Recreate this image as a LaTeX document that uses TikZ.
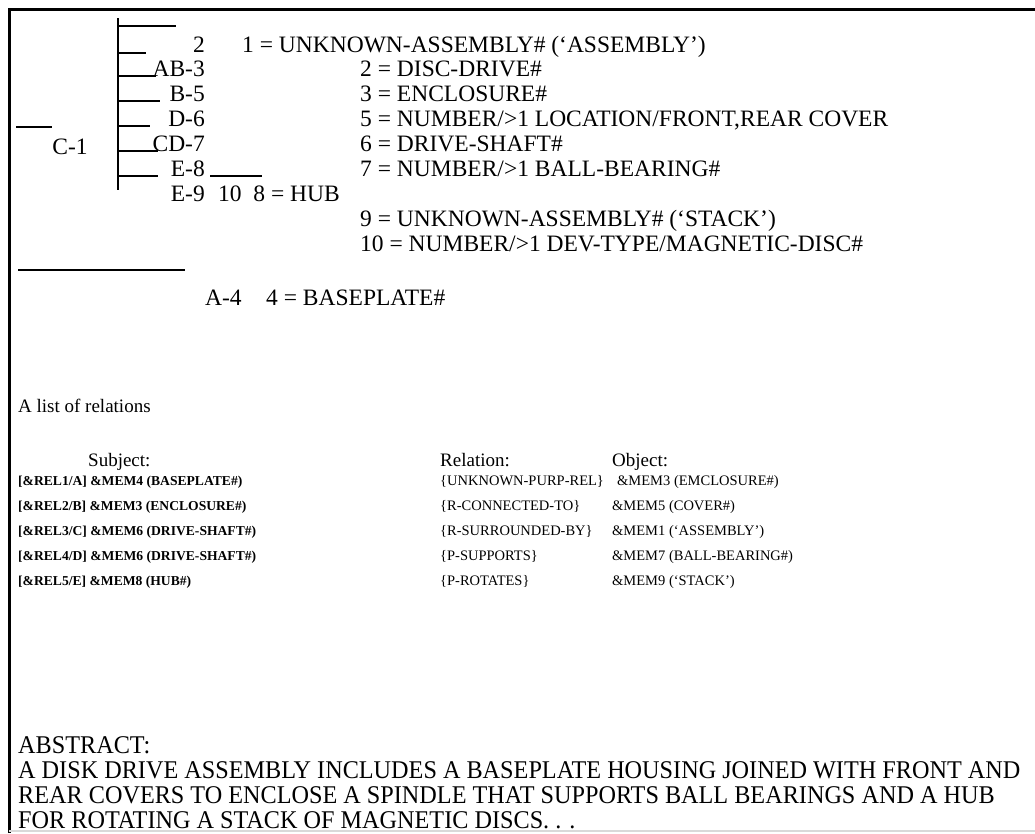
\documentclass[tikz,border=0pt]{standalone}
\usepackage{fontspec}
\setmainfont{Liberation Serif}
\newfontfamily\absfont[FakeStretch=0.95]{Liberation Serif}

\begin{document}
\begin{tikzpicture}[x=1pt,y=-1pt,
  frameline/.style={line width=3pt},
  treeline/.style={line width=1.6pt},
  lbl/.style={anchor=base east, inner sep=0pt, font=\fontsize{23.5}{28}\selectfont},
  txt/.style={anchor=base west, inner sep=0pt, font=\fontsize{23.5}{28}\selectfont},
  hdrtxt/.style={anchor=base west, inner sep=0pt, font=\fontsize{19}{22}\selectfont},
  subjtxt/.style={anchor=base west, inner sep=0pt, font=\bfseries\fontsize{13.6}{17}\selectfont},
  reltxt/.style={anchor=base west, inner sep=0pt, font=\fontsize{14.5}{17}\selectfont},
  abstxt/.style={anchor=base west, inner sep=0pt, font=\absfont\fontsize{25.5}{25}\selectfont}]
  \useasboundingbox (0,0) rectangle (1035,833);

  % Rahmen (links und oben)
  \draw[frameline] (9,833) -- (9,9) -- (1035,9);
  \draw[gray!30, line width=2pt] (9,831) -- (1035,831);

  % Baum
  \coordinate (spinetop) at (118,18);
  \coordinate (spinebot) at (118,190);
  \draw[treeline] (spinetop) -- (spinebot);
  \foreach \y/\e in {26/176, 53/146, 76/156, 101/160, 126/150, 151/158, 176/158}
    \draw[treeline] (118,\y) -- (\e,\y);
  \coordinate (cleft) at (16,127);
  \coordinate (cright) at (52,127);
  \draw[treeline] (cleft) -- (cright);

  \node[txt, anchor=base] (c1) at (70,154) {C-1};
  \node[lbl] (r2)  at (205,52)  {2};
  \node[lbl] (ab3) at (205,76)  {AB-3};
  \node[lbl] (b5)  at (205,101) {B-5};
  \node[lbl] (d6)  at (205,126) {D-6};
  \node[lbl] (cd7) at (205,151) {CD-7};
  \node[lbl] (e8)  at (205,176) {E-8};
  \node[lbl] (e9)  at (205,201) {E-9};
  \coordinate (e8tail) at (262,176);
  \draw[treeline] ([xshift=5pt]e8.base east) -- (e8tail);

  % Bedeutungen
  \node[txt] (m1)  at (242,52)  {1 = UNKNOWN-ASSEMBLY\# (`ASSEMBLY')};
  \node[txt] (m2)  at (360,76)  {2 = DISC-DRIVE\#};
  \node[txt] (m3)  at (360,101) {3 = ENCLOSURE\#};
  \node[txt] (m5)  at (360,126) {5 = NUMBER/>1 LOCATION/FRONT,REAR COVER};
  \node[txt] (m6)  at (360,151) {6 = DRIVE-SHAFT\#};
  \node[txt] (m7)  at (360,176) {7 = NUMBER/>1 BALL-BEARING\#};
  \node[txt] (m8)  at (218,201) {10\ \ 8 = HUB};
  \node[txt] (m9)  at (360,226) {9 = UNKNOWN-ASSEMBLY\# (`STACK')};
  \node[txt] (m10) at (360,251) {10 = NUMBER/>1 DEV-TYPE/MAGNETIC-DISC\#};

  % Grundplatte
  \coordinate (aleft) at (18,270);
  \coordinate (aright) at (185,270);
  \draw[treeline] (aleft) -- (aright);
  \node[txt] (a4) at (205,305) {A-4};
  \node[txt] (m4) at (266,305) {4 = BASEPLATE\#};

  % Relationen
  \node[hdrtxt] (reltitle) at (18,412) {A list of relations};
  \node[hdrtxt] (hsubj) at (88,466) {Subject:};
  \node[hdrtxt] (hrel)  at (440,466) {Relation:};
  \node[hdrtxt] (hobj)  at (612,466) {Object:};

  \node[subjtxt] (s1) at (18,485) {[\&REL1/A] \&MEM4 (BASEPLATE\#)};
  \node[subjtxt] (s2) at (18,510) {[\&REL2/B] \&MEM3 (ENCLOSURE\#)};
  \node[subjtxt] (s3) at (18,535) {[\&REL3/C] \&MEM6 (DRIVE-SHAFT\#)};
  \node[subjtxt] (s4) at (18,560) {[\&REL4/D] \&MEM6 (DRIVE-SHAFT\#)};
  \node[subjtxt] (s5) at (18,585) {[\&REL5/E] \&MEM8 (HUB\#)};

  \node[reltxt] (p1) at (440,485) {\{UNKNOWN-PURP-REL\}};
  \node[reltxt] (p2) at (440,510) {\{R-CONNECTED-TO\}};
  \node[reltxt] (p3) at (440,535) {\{R-SURROUNDED-BY\}};
  \node[reltxt] (p4) at (440,560) {\{P-SUPPORTS\}};
  \node[reltxt] (p5) at (440,585) {\{P-ROTATES\}};

  \node[reltxt] (o1) at (617,485) {\&MEM3 (EMCLOSURE\#)};
  \node[reltxt] (o2) at (612,510) {\&MEM5 (COVER\#)};
  \node[reltxt] (o3) at (612,535) {\&MEM1 (`ASSEMBLY')};
  \node[reltxt] (o4) at (612,560) {\&MEM7 (BALL-BEARING\#)};
  \node[reltxt] (o5) at (612,585) {\&MEM9 (`STACK')};

  % Zusammenfassung
  \node[abstxt] (abshead) at (18,753) {ABSTRACT:};
  \node[abstxt] (abs1) at (18,778) {A DISK DRIVE ASSEMBLY INCLUDES A BASEPLATE HOUSING JOINED WITH FRONT AND};
  \node[abstxt] (abs2) at (18,803) {REAR COVERS TO ENCLOSE A SPINDLE THAT SUPPORTS BALL BEARINGS AND A HUB};
  \node[abstxt] (abs3) at (18,828) {FOR ROTATING A STACK OF MAGNETIC DISCS. . .};
\end{tikzpicture}
\end{document}
